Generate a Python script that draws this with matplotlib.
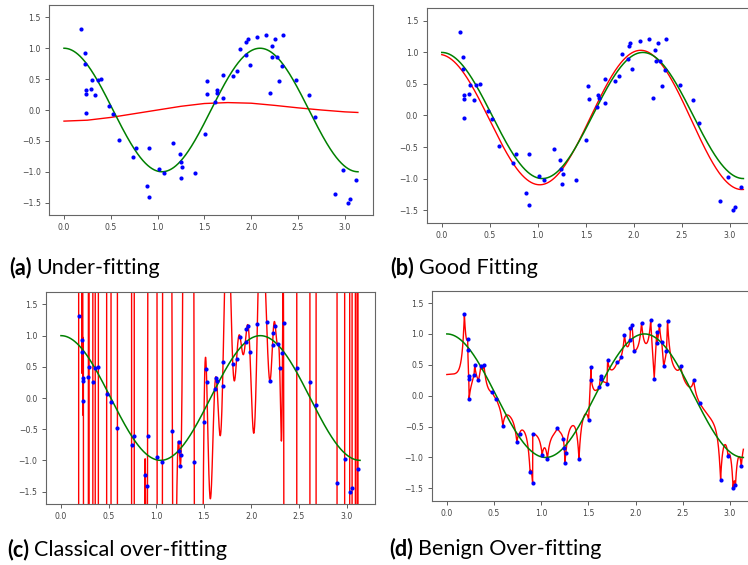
import numpy as np
import matplotlib
matplotlib.use("Agg")
import matplotlib.pyplot as plt

# noisy samples of cos(3x)
x_obs = np.array([
    0.186, 0.221, 0.222, 0.230, 0.233, 0.236, 0.295, 0.288, 0.335, 0.360,
    0.393, 0.480, 0.526, 0.593, 0.742, 0.770, 0.882, 0.910, 0.909, 1.010,
    1.066, 1.170, 1.235, 1.245, 1.261, 1.251, 1.400, 1.502, 1.528, 1.530,
    1.614, 1.630, 1.635, 1.697, 1.703, 1.805, 1.845, 1.882, 1.940, 1.945,
    1.962, 1.985, 2.063, 2.160, 2.197, 2.224, 2.226, 2.252, 2.277, 2.298,
    2.327, 2.338, 2.477, 2.615, 2.680, 2.900, 2.980, 3.033, 3.058, 3.120])
y_obs = np.array([
    1.318, 0.923, 0.745, 0.324, 0.265, -0.047, 0.490, 0.335, 0.250, 0.480,
    0.505, 0.065, -0.060, -0.484, -0.753, -0.612, -1.233, -0.612, -1.415, -0.953,
    -1.020, -0.527, -0.708, -0.849, -0.921, -1.093, -1.022, -0.388, 0.462, 0.262,
    0.137, 0.326, 0.274, 0.196, 0.572, 0.545, 0.628, 0.980, 0.897, 1.102,
    1.151, 0.730, 1.180, 1.220, 0.276, 1.038, 0.858, 1.151, 0.865, 0.474,
    0.716, 1.209, 0.486, 0.250, -0.119, -1.362, -0.977, -1.500, -1.444, -1.132])

# under-fitted model, sampled along x
x_under = np.array([0.0, 0.25, 0.5, 0.75, 1.0, 1.25, 1.5, 1.75, 2.0, 2.25,
                    2.5, 2.75, 3.0, 3.14])
y_under = np.array([-0.18, -0.165, -0.12, -0.06, 0.0, 0.06, 0.105, 0.12, 0.11,
                    0.075, 0.035, 0.0, -0.03, -0.04])

captions = [("(a)", "Under-fitting"), ("(b)", "Good Fitting"),
            ("(c)", "Classical over-fitting"), ("(d)", "Benign Over-fitting")]

x_grid = np.linspace(0, np.pi, 4000)
y_true = np.cos(3 * x_grid)


def gauss(a, b, s):
    return np.exp(-(a[:, None] - b[None, :]) ** 2 / (2 * s * s))


def laplace(a, b, w):
    return np.exp(-np.abs(a[:, None] - b[None, :]) / w)


def design(x):
    c, s = np.cos(3 * x), np.sin(3 * x)
    return np.column_stack([np.ones_like(x), x, c, s, x * c, x * s])


# good fit: ridge least squares on a small basis
X = design(x_obs)
pen = np.diag([0, 0, 0, 0, 60.0, 60.0])
coef = np.linalg.solve(X.T @ X + pen, X.T @ y_obs)
fit_good = design(x_grid) @ coef

# classical over-fit: very high degree polynomial
fit_over = np.polynomial.Chebyshev.fit(x_obs, y_obs, 56)(x_grid)

# benign over-fit: smooth kernel plus a spiky kernel, interpolating
s_smooth, w_spike, beta = 0.45, 0.025, 3.0
K = gauss(x_obs, x_obs, s_smooth) + beta * laplace(x_obs, x_obs, w_spike)
alpha = np.linalg.solve(K + 1e-10 * np.eye(len(x_obs)), y_obs)
fit_benign = (gauss(x_grid, x_obs, s_smooth)
              + beta * laplace(x_grid, x_obs, w_spike)) @ alpha

red_lines = [(x_under, y_under), (x_grid, fit_good), (x_grid, fit_over),
             (x_grid, fit_benign)]

W, H = 748, 565
fig = plt.figure(figsize=(W / 100, H / 100), dpi=100)

# axes boxes in pixels: left, top, width, height
boxes = [(49.3, 5, 323.4, 210), (426.7, 8.3, 331.8, 214.4),
         (46, 292, 329, 212), (432, 290.7, 326.2, 210)]
cap_pos = [(9, 268), (390, 268), (7, 550), (389, 549)]

for box, (rx, ry) in zip(boxes, red_lines):
    l, t, w, h = box
    ax = fig.add_axes([l / W, (H - t - h) / H, w / W, h / H])
    ax.plot(rx, ry, color="r", lw=1.0)
    ax.plot(x_grid, y_true, color="g", lw=1.1)
    ax.plot(x_obs, y_obs, "o", color="b", ms=3.0, mec="none")
    ax.set_ylim(-1.7, 1.7)
    ax.set_xticks(np.arange(0, 3.01, 0.5))
    ax.set_yticks(np.arange(-1.5, 1.51, 0.5))
    ax.tick_params(labelsize=5.6, length=2.6, width=0.6, colors="#444")
    for sp in ax.spines.values():
        sp.set_color("#666")
        sp.set_linewidth(0.8)

fig.canvas.draw()
renderer = fig.canvas.get_renderer()
for (tag, name), (px, py) in zip(captions, cap_pos):
    t1 = fig.text(px / W, (H - py) / H, tag, fontsize=15.5, fontweight="bold",
                  family="Lato", va="center", ha="left")
    bb = t1.get_window_extent(renderer)
    fig.text((bb.x1 + 5) / W, (H - py) / H, name, fontsize=15.5,
             family="Lato", va="center", ha="left")

fig.savefig("out.png", dpi=100)
